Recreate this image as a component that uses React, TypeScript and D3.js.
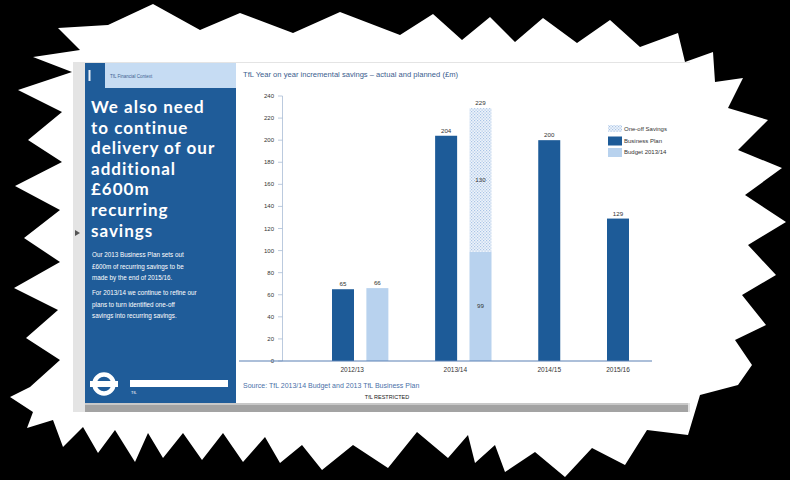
import React from "react";
import * as d3 from "d3";

const categories = ["2012/13", "2013/14", "2014/15", "2015/16"];
const businessPlan = [65, 204, 200, 129];
const budget: (number | null)[] = [66, 99, null, null];
const oneOff: (number | null)[] = [null, 130, null, null];
const yTicks = [0, 20, 40, 60, 80, 100, 120, 140, 160, 180, 200, 220, 240];
const legendItems = ["One-off Savings", "Business Plan", "Budget 2013/14"];

const chartTitle = "TfL Year on year incremental savings – actual and planned (£m)";
const sourceText = "Source: TfL 2013/14 Budget and 2013 TfL Business Plan";
const headingLines = ["We also need", "to continue", "delivery of our", "additional", "£600m", "recurring", "savings"];
const bodyPara1 = ["Our 2013 Business Plan sets out", "£600m of recurring savings to be", "made by the end of 2015/16."];
const bodyPara2 = ["For 2013/14 we continue to refine our", "plans to turn identified one-off", "savings into recurring savings."];

// starburst outline
const burst: [number, number][] = [
  [58, 28], [108, 25], [153, 4], [200, 30], [240, 13], [293, 33], [340, 12], [400, 35], [433, 14], [462, 40],
  [490, 17], [515, 42], [543, 18], [577, 43], [610, 20], [640, 47], [678, 33], [685, 62], [713, 52], [715, 82],
  [743, 78], [728, 108], [768, 120], [738, 150], [782, 168], [745, 195], [786, 222], [748, 245], [776, 275],
  [742, 295], [766, 325], [735, 340], [752, 365], [738, 385], [700, 395], [688, 435], [647, 430], [625, 465],
  [592, 448], [565, 477], [535, 452], [505, 472], [495, 445], [475, 463], [468, 435], [448, 458], [417, 432],
  [388, 468], [353, 445], [322, 470], [302, 445], [280, 463], [265, 437], [243, 462], [223, 433], [202, 460],
  [183, 433], [163, 458], [148, 433], [135, 462], [115, 430], [98, 453], [83, 427], [63, 447], [53, 420],
  [27, 428], [33, 412], [10, 397], [30, 387], [60, 360], [26, 338], [58, 310], [14, 288], [60, 262], [24, 238],
  [60, 210], [15, 186], [62, 162], [28, 140], [62, 112], [18, 90], [72, 72], [33, 57], [80, 50],
];

const DARK = "#1d5b98";
const LIGHT = "#b8d2ee";
const PANEL = "#1f5c99";

export default function App() {
  const y = d3.scaleLinear().domain([0, 240]).range([361, 96]);

  const slots: string[] = [];
  categories.forEach((c, i) => {
    if (i > 0) slots.push("gap" + i);
    if (businessPlan[i] != null) slots.push(c + "|bp");
    if (budget[i] != null) slots.push(c + "|bud");
  });
  const x = d3.scaleBand<string>().domain(slots).range([332, 629]).paddingInner(0.36).paddingOuter(0);
  const bw = x.bandwidth();

  const catCenter = (c: string, i: number) => {
    const a = x(c + "|bp")!;
    const b = budget[i] != null ? x(c + "|bud")! : a;
    return (a + b + bw) / 2;
  };

  const line = d3.line();
  const small = "Liberation Sans, Arial, sans-serif";

  return (
    <svg width={790} height={480} style={{ position: "absolute", left: 0, top: 0, display: "block" }}>
      <defs>
        <pattern id="hatch" width={3} height={3} patternUnits="userSpaceOnUse">
          <rect width={3} height={3} fill="#eef4fb" />
          <rect x={0} y={0} width={1.2} height={1.2} fill="#a9c4e6" />
          <rect x={1.5} y={1.5} width={1.2} height={1.2} fill="#a9c4e6" />
        </pattern>
      </defs>
      <rect width={790} height={480} fill="#000" />
      <path d={line(burst)! + "Z"} fill="#fff" />

      {/* slide frame */}
      <rect x={73} y={62} width={617} height={350} fill="#e4e4e4" />
      <rect x={236} y={63} width={454} height={340} fill="#fff" />
      <rect x={85} y={403} width={603} height={9} fill="#a3a3a3" />
      <rect x={85} y={403} width={603} height={2} fill="#c8c8c8" />
      <path d="M75,230 L80,233 L75,236 Z" fill="#555" />

      {/* left panel */}
      <rect x={85} y={63} width={20} height={25} fill={PANEL} />
      <rect x={105} y={63} width={131} height={25} fill="#c6dcf3" />
      <rect x={85} y={88} width={151} height={315} fill={PANEL} />
      <rect x={88.5} y={70} width={2} height={11} fill="#e8eef6" />
      <text x={110} y={78} fontSize={4.5} fill="#3e5f90" fontFamily={small}>TfL Financial Context</text>

      {headingLines.map((t, i) => (
        <text key={t} x={91} y={113 + i * 20.6} fontSize={17} fontWeight={700} fill="#fff" fontFamily="Lato, sans-serif" letterSpacing={1}>
          {t}
        </text>
      ))}
      {bodyPara1.map((t, i) => (
        <text key={t} x={92} y={257 + i * 11.6} fontSize={6.3} fill="#fff" fontFamily={small}>{t}</text>
      ))}
      {bodyPara2.map((t, i) => (
        <text key={t} x={92} y={295 + i * 11.6} fontSize={6.3} fill="#fff" fontFamily={small}>{t}</text>
      ))}

      {/* roundel */}
      <circle cx={104} cy={384} r={9.5} fill="none" stroke="#fff" strokeWidth={4.5} />
      <rect x={90} y={381} width={28} height={6} fill="#fff" />
      <rect x={130} y={380} width={98} height={7} fill="#fff" />
      <text x={131} y={394} fontSize={4} fill="#fff" fontFamily={small}>TfL</text>

      {/* chart title */}
      <text x={243} y={77} fontSize={7.6} fill="#3b5d8e" fontFamily={small}>{chartTitle}</text>

      {/* y axis */}
      <line x1={282.5} x2={282.5} y1={y(240)} y2={y(0)} stroke="#a9bdd6" strokeWidth={0.8} />
      {yTicks.map((t) => (
        <g key={t}>
          <line x1={278} x2={282.5} y1={y(t)} y2={y(t)} stroke="#a9bdd6" strokeWidth={0.8} />
          <text x={274} y={y(t) + 2} fontSize={6} textAnchor="end" fill="#333" fontFamily={small}>{t}</text>
        </g>
      ))}

      {/* bars */}
      {categories.map((c, i) => {
        const bx = x(c + "|bp")!;
        const v = businessPlan[i];
        return (
          <g key={c}>
            <rect x={bx} y={y(v)} width={bw} height={y(0) - y(v)} fill={DARK} />
            <text x={bx + bw / 2} y={y(v) - 3} fontSize={6.2} textAnchor="middle" fill="#333" fontFamily={small}>{v}</text>
          </g>
        );
      })}
      {categories.map((c, i) => {
        const b = budget[i];
        if (b == null) return null;
        const bx = x(c + "|bud")!;
        const o = oneOff[i];
        const total = b + (o ?? 0);
        return (
          <g key={c + "b"}>
            <rect x={bx} y={y(b)} width={bw} height={y(0) - y(b)} fill={LIGHT} />
            {o != null && (
              <>
                <rect x={bx} y={y(total)} width={bw} height={y(b) - y(total)} fill="url(#hatch)" />
                <text x={bx + bw / 2} y={(y(b) + y(0)) / 2 + 2} fontSize={6.2} textAnchor="middle" fill="#333" fontFamily={small}>{b}</text>
                <text x={bx + bw / 2} y={(y(total) + y(b)) / 2 + 2} fontSize={6.2} textAnchor="middle" fill="#333" fontFamily={small}>{o}</text>
              </>
            )}
            <text x={bx + bw / 2} y={y(total) - 3} fontSize={6.2} textAnchor="middle" fill="#333" fontFamily={small}>{total}</text>
          </g>
        );
      })}

      {/* baseline */}
      <line x1={239} x2={652} y1={y(0)} y2={y(0)} stroke="#5b80b3" strokeWidth={1.2} />
      {categories.map((c, i) => (
        <text key={c} x={catCenter(c, i) - (budget[i] != null ? 8 : 0)} y={372} fontSize={6.5} textAnchor="middle" fill="#333" fontFamily={small}>{c}</text>
      ))}

      {/* legend */}
      {legendItems.map((t, i) => (
        <g key={t}>
          <rect x={608} y={125 + i * 11.5} width={14} height={i === 0 ? 7 : 9} fill={i === 0 ? "url(#hatch)" : i === 1 ? DARK : LIGHT} />
          <text x={624} y={131 + i * 11.5} fontSize={6} fill="#333" fontFamily={small}>{t}</text>
        </g>
      ))}

      <text x={243} y={388} fontSize={7} fill="#4a70a8" fontFamily={small}>{sourceText}</text>
      <text x={387} y={399} fontSize={5.5} textAnchor="middle" fill="#222" fontFamily={small}>TfL RESTRICTED</text>
    </svg>
  );
}
